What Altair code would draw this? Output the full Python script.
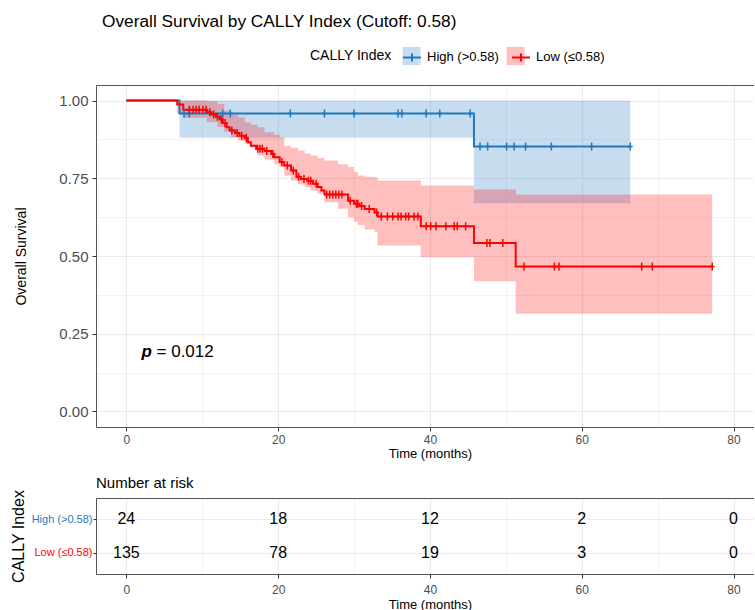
import altair as alt
import pandas as pd

FONT = "Liberation Sans"
GROUPS = ["High (>0.58)", "Low (≤0.58)"]
COLORS = ["#1F78C1", "#FF0000"]

# ---- High (>0.58) group: KM steps, censor times, confidence band ----
high_time = [0, 7.0, 45.8, 66.4]
high_surv = [1.0, 0.958, 0.852, 0.852]
high_censor = [7.6, 8.3, 12.7, 13.7, 21.6, 26.1, 30.0, 35.8, 36.3, 39.5,
               41.3, 45.3, 46.6, 47.6, 50.1, 51.1, 52.6, 56.0, 61.3, 66.4]
high_band_time = [7.0, 45.8, 66.4]
high_band_upper = [1.0, 1.0, 1.0]
high_band_lower = [0.88, 0.67, 0.67]

# ---- Low (<=0.58) group ----
low_time = [0, 6.7, 7.5, 10.6, 11.2, 11.8, 12.3, 12.7, 13.2, 13.6, 14.3, 14.9,
            15.6, 16.0, 16.4, 17.1, 18.2, 19.1, 19.5, 20.2, 20.8, 21.7, 22.4,
            23.0, 23.9, 24.6, 25.2, 25.7, 26.1, 29.2, 30.0, 30.7, 31.4, 32.7,
            33.1, 38.8, 45.8, 51.3, 77.2]
low_surv = [1.0, 0.987, 0.970, 0.962, 0.955, 0.948, 0.940, 0.928, 0.914, 0.904,
            0.896, 0.887, 0.880, 0.866, 0.855, 0.845, 0.838, 0.828, 0.818, 0.802,
            0.791, 0.775, 0.755, 0.748, 0.742, 0.732, 0.722, 0.711, 0.698, 0.678,
            0.668, 0.661, 0.651, 0.640, 0.627, 0.596, 0.542, 0.466, 0.466]
low_censor = [8.3, 8.8, 9.2, 9.6, 10.1, 10.5, 11.0, 11.5, 12.0, 12.5, 13.0, 13.9,
              14.6, 15.2, 15.8, 17.3, 17.6, 17.9, 18.5, 19.3, 20.5, 21.2, 22.0,
              22.7, 23.4, 24.0, 24.3, 25.0, 26.4, 26.8, 27.2, 27.6, 28.0, 28.4,
              29.5, 30.3, 30.5, 31.0, 32.0, 33.0, 33.6, 34.4, 35.1, 35.8, 36.2,
              36.8, 37.2, 37.9, 38.4, 39.5, 40.1, 40.8, 42.1, 43.2, 43.6, 44.7,
              47.5, 47.9, 49.6, 52.4, 56.4, 57.0, 67.9, 69.3, 77.2]
low_band_time = [6.7, 7.5, 10.6, 12.0, 12.9, 13.8, 14.7, 15.6, 16.4, 17.3, 18.2,
                 19.5, 20.2, 20.8, 21.7, 22.6, 23.5, 24.3, 25.2, 26.1, 27.9, 29.2,
                 30.0, 30.5, 31.4, 32.7, 33.1, 38.8, 45.8, 51.3, 77.2]
low_band_upper = [1.0, 1.0, 0.998, 0.989, 0.968, 0.955, 0.946, 0.930, 0.922, 0.914,
                  0.898, 0.890, 0.882, 0.855, 0.848, 0.839, 0.830, 0.823, 0.815,
                  0.807, 0.795, 0.786, 0.770, 0.759, 0.755, 0.753, 0.743, 0.727,
                  0.714, 0.698, 0.698]
low_band_lower = [0.960, 0.945, 0.930, 0.915, 0.900, 0.882, 0.871, 0.860, 0.850,
                  0.823, 0.810, 0.795, 0.786, 0.759, 0.743, 0.730, 0.721, 0.710,
                  0.700, 0.673, 0.652, 0.625, 0.610, 0.600, 0.585, 0.577, 0.534,
                  0.496, 0.419, 0.314, 0.314]

# ---- Number at risk ----
risk_time = [0, 20, 40, 60, 80]
risk_high = [24, 18, 12, 2, 0]
risk_low = [135, 78, 19, 3, 0]

p_value_text = "= 0.012"
p_pos_time = [2.0]
p_pos_surv = [0.19]


def surv_at(t, times, survs):
    s = survs[0]
    for ti, si in zip(times, survs):
        if ti <= t:
            s = si
    return s


line_df = pd.concat([
    pd.DataFrame({"time": high_time, "surv": high_surv, "group": GROUPS[0]}),
    pd.DataFrame({"time": low_time, "surv": low_surv, "group": GROUPS[1]}),
], ignore_index=True)

censor_df = pd.concat([
    pd.DataFrame({"time": high_censor,
                  "surv": [surv_at(t, high_time, high_surv) for t in high_censor],
                  "group": GROUPS[0]}),
    pd.DataFrame({"time": low_censor,
                  "surv": [surv_at(t, low_time, low_surv) for t in low_censor],
                  "group": GROUPS[1]}),
], ignore_index=True)

band_df = pd.concat([
    pd.DataFrame({"time": high_band_time, "upper": high_band_upper,
                  "lower": high_band_lower, "group": GROUPS[0]}),
    pd.DataFrame({"time": low_band_time, "upper": low_band_upper,
                  "lower": low_band_lower, "group": GROUPS[1]}),
], ignore_index=True)

risk_df = pd.concat([
    pd.DataFrame({"time": risk_time, "n": risk_high, "group": GROUPS[0]}),
    pd.DataFrame({"time": risk_time, "n": risk_low, "group": GROUPS[1]}),
], ignore_index=True)

p_df = pd.DataFrame({"time": p_pos_time, "surv": p_pos_surv,
                     "p": ["p"], "rest": [p_value_text]})

# ---- scales & axes ----
W = 658
x_scale = alt.Scale(domain=[-4, 82.7], nice=False, zero=False)
y_scale = alt.Scale(domain=[-0.05, 1.05], nice=False, zero=False)
x_vals = list(range(0, 81, 10))
y_vals = [i * 0.125 for i in range(9)]

GRID = "#EBEBEB"
DOMAIN = "#555555"


def x_axis(label_pad, title_pad):
    return alt.Axis(
        values=x_vals, format="d",
        labelExpr="datum.value % 20 == 0 ? datum.label : ''",
        title="Time (months)", titleX=334, titleFontSize=13,
        titleFontWeight="normal", titleColor="#000000", titlePadding=title_pad,
        grid=True, gridColor=GRID,
        gridWidth={"condition": {"test": "datum.value % 20 != 0", "value": 0.6}, "value": 1.1},
        tickOpacity={"condition": {"test": "datum.value % 20 != 0", "value": 0}, "value": 1},
        tickSize=4, tickColor="#333333", domainColor=DOMAIN, domainWidth=1,
        labelColor="#4D4D4D", labelFontSize=12, labelPadding=label_pad,
    )


top_border_axis = alt.Axis(orient="top", labels=False, ticks=False, grid=False,
                           domain=True, domainColor=DOMAIN, domainWidth=1, title=None)

y_axis_main = alt.Axis(
    values=y_vals,
    labelExpr="datum.value % 0.25 == 0 ? format(datum.value, '.2f') : ''",
    title="Overall Survival", titleFontSize=14, titleFontWeight="normal",
    titleColor="#000000", titlePadding=30,
    grid=True, gridColor=GRID,
    gridWidth={"condition": {"test": "datum.value % 0.25 != 0", "value": 0.6}, "value": 1.1},
    tickOpacity={"condition": {"test": "datum.value % 0.25 != 0", "value": 0}, "value": 1},
    tickSize=4, tickColor="#333333", domainColor=DOMAIN, domainWidth=1,
    labelColor="#4D4D4D", labelFontSize=15, labelPadding=4,
)

LEG_X = 214
LEG_Y = -38
# line + censor-mark legend (with title and labels)
stroke_legend = alt.Legend(
    title="CALLY Index", orient="none", legendX=LEG_X, legendY=LEG_Y,
    direction="horizontal", titleOrient="left", titleFontSize=14,
    titleFontWeight="normal", titleColor="#000000", titlePadding=10,
    labelFontSize=13, labelColor="#000000", labelOffset=5, columnPadding=9,
    symbolType="M-1,0H1M0,-0.45V0.45", symbolSize=324, symbolStrokeWidth=2,
)
# confidence-band legend: only the shaded squares, placed under the line keys
fill_legend = alt.Legend(
    title=None, orient="none", legendX=LEG_X + 92.5, legendY=LEG_Y,
    direction="horizontal", labelExpr="''", labelOffset=0, columnPadding=86,
    symbolType="square", symbolSize=324, symbolStrokeWidth=0,
)

band = alt.Chart(band_df).mark_area(interpolate="step-after", opacity=0.25).encode(
    x=alt.X("time:Q", scale=x_scale, axis=None),
    y=alt.Y("upper:Q", scale=y_scale, axis=y_axis_main),
    y2="lower:Q",
    fill=alt.Fill("group:N", scale=alt.Scale(range=COLORS), legend=fill_legend),
)

lines = alt.Chart(line_df).mark_line(interpolate="step-after", strokeWidth=2).encode(
    x=alt.X("time:Q", scale=x_scale, axis=x_axis(3, 2)),
    y=alt.Y("surv:Q", scale=y_scale, axis=y_axis_main),
    stroke=alt.Stroke("group:N", scale=alt.Scale(range=COLORS), legend=stroke_legend),
)

censor = alt.Chart(censor_df).mark_point(
    shape="M0,-1V1M-0.6,0H0.6", size=64, strokeWidth=1.5, filled=False, opacity=1
).encode(
    x=alt.X("time:Q", scale=x_scale, axis=top_border_axis),
    y=alt.Y("surv:Q", scale=y_scale, axis=y_axis_main),
    stroke=alt.Stroke("group:N", scale=alt.Scale(range=COLORS), legend=stroke_legend),
)

p_bold = alt.Chart(p_df).mark_text(
    align="left", baseline="middle", fontSize=17, fontStyle="italic",
    fontWeight="bold", color="#000000", font=FONT
).encode(
    x=alt.X("time:Q", scale=x_scale, axis=None),
    y=alt.Y("surv:Q", scale=y_scale, axis=y_axis_main),
    text="p:N",
)
p_rest = alt.Chart(p_df).mark_text(
    align="left", baseline="middle", fontSize=17, dx=15, color="#000000", font=FONT
).encode(
    x=alt.X("time:Q", scale=x_scale, axis=None),
    y=alt.Y("surv:Q", scale=y_scale, axis=y_axis_main),
    text="rest:N",
)

top = alt.layer(band, lines, censor, p_bold, p_rest).resolve_axis(
    x="independent"
).properties(
    width=W, height=342,
    title=alt.TitleParams(
        "Overall Survival by CALLY Index (Cutoff: 0.58)", anchor="start",
        frame="group", dx=6, fontSize=17.3, fontWeight="normal", color="#000000",
        font=FONT, offset=55,
    ),
)

# ---- risk table ----
y_risk_scale = alt.Scale(type="point", padding=0.65, domain=GROUPS)
y_axis_risk = alt.Axis(
    title="CALLY Index", titleFontSize=16, titleFontWeight="normal",
    titleColor="#000000", titlePadding=5,
    labelFontSize=11, labelPadding=1, tickSize=3, tickColor="#333333",
    labelColor={"condition": {"test": f"datum.value == '{GROUPS[0]}'", "value": COLORS[0]},
                "value": COLORS[1]},
    grid=True, gridColor=GRID, gridWidth=1.1, domainColor=DOMAIN, domainWidth=1,
)

risk_text = alt.Chart(risk_df).mark_text(fontSize=16, color="#000000", font=FONT).encode(
    x=alt.X("time:Q", scale=x_scale, axis=x_axis(6, 3)),
    y=alt.Y("group:N", scale=y_risk_scale, axis=y_axis_risk, sort=GROUPS),
    text="n:Q",
)
risk_border = alt.Chart(risk_df).mark_point(opacity=0).encode(
    x=alt.X("time:Q", scale=x_scale, axis=top_border_axis),
    y=alt.Y("group:N", scale=y_risk_scale, axis=y_axis_risk, sort=GROUPS),
)

bottom = alt.layer(risk_text, risk_border).resolve_axis(x="independent").properties(
    width=W, height=76,
    title=alt.TitleParams("Number at risk", anchor="start", frame="group",
                          fontSize=15, fontWeight="normal", color="#000000",
                          font=FONT, offset=-2),
)

chart = alt.vconcat(top, bottom, spacing=16).properties(
    padding={"left": 10, "top": 12, "right": 0, "bottom": 0},
    background="#FFFFFF",
).configure(font=FONT).configure_view(stroke="transparent", strokeWidth=0)

chart.save("out.html", embed_options={"renderer": "svg", "actions": False})
